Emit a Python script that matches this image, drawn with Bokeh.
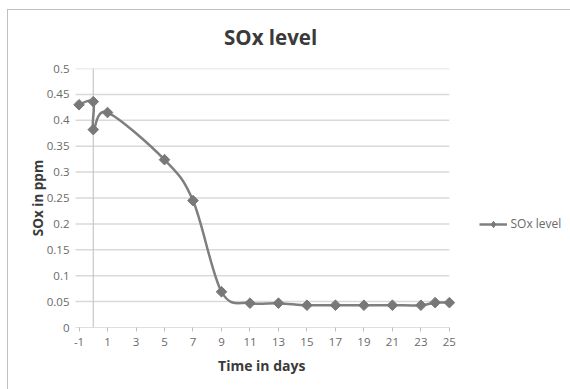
import math
from bokeh.plotting import figure
from bokeh.models import (FixedTicker, Range1d, Legend, LegendItem, Title)
from bokeh.embed import file_html
from bokeh.resources import INLINE

# ---- data ----
days = [-1, 0, 0, 1, 5, 7, 9, 11, 13, 15, 17, 19, 21, 23, 24, 25]
sox = [0.430, 0.436, 0.382, 0.415, 0.324, 0.245, 0.069, 0.047, 0.047,
       0.043, 0.043, 0.043, 0.043, 0.043, 0.048, 0.048]
x_ticks = [-1, 1, 3, 5, 7, 9, 11, 13, 15, 17, 19, 21, 23, 25]
x_tick_labels = ["-1", "1", "3", "5", "7", "9", "11", "13", "15", "17", "19", "21", "23", "25"]
y_ticks = [0, 0.05, 0.1, 0.15, 0.2, 0.25, 0.3, 0.35, 0.4, 0.45, 0.5]
y_tick_labels = ["0", "0.05", "0.1", "0.15", "0.2", "0.25", "0.3", "0.35", "0.4", "0.45", "0.5"]
series_name = "SOx level"
title_text = "SOx level"
x_label = "Time in days"
y_label = "SOx in ppm"

FONT = "Open Sans"
LINE = "#7f7f7f"
MARK = "#787878"
GRID = "#d9d9d9"
AXIS = "#bfbfbf"
TXT = "#6a6a6a"
DARK = "#3a3a3a"

OX, OY = 7, 9            # chart-area border offset inside the window
PL, PR = 78, 448         # plot-area left/right (window px) for x = -1 .. 25
x_lo, x_hi = x_ticks[0], x_ticks[-1]
scale = (PR - PL) / (x_hi - x_lo)          # px per day
pad = 0.6                                   # room so the first marker is not cut
x_start = x_lo - pad
FL = PL - pad * scale                       # frame left in window px
x_end = x_lo + (570 - PL) / scale           # frame runs to the right edge
tick_len = 3.5 / scale                      # short tick stubs left of the gridlines

p = figure(width=570 - OX, height=389 - OY, output_backend="svg", toolbar_location=None,
           x_range=Range1d(x_start, x_end), y_range=Range1d(0, 0.5),
           min_border_left=int(round(FL - OX)), min_border_right=0, min_border_top=67 - OY,
           min_border_bottom=63)
p.margin = (OY, 0, 0, OX)
p.styles = {"border-top": "1.5px solid #c0c0c0", "border-left": "1.5px solid #c0c0c0"}

p.title.text = title_text
p.title.align = "left"
p.title.offset = 270 - FL - 47
p.title.standoff = 10
p.title.text_font = FONT
p.title.text_font_size = "20.5px"
p.title.text_font_style = "bold"
p.title.text_color = DARK
# thin empty spacer between the title and the plot area
p.add_layout(Title(text=" ", text_font_size="1px", standoff=10), "above")
p.outline_line_color = None
p.background_fill_color = "white"
p.border_fill_color = "white"

# axes
p.xaxis.ticker = FixedTicker(ticks=x_ticks)
p.xaxis.major_label_overrides = {t: l for t, l in zip(x_ticks, x_tick_labels)}
p.yaxis.ticker = FixedTicker(ticks=y_ticks)
p.yaxis.major_label_overrides = {t: l for t, l in zip(y_ticks, y_tick_labels)}
p.yaxis.axis_label = y_label
for ax in (p.xaxis, p.yaxis):
    ax.axis_label_text_font = FONT
    ax.axis_label_text_font_style = "bold"
    ax.axis_label_text_font_size = "13.5px"
    ax.axis_label_text_color = DARK
    ax.major_label_text_font = FONT
    ax.major_label_text_font_size = "11.5px"
    ax.major_label_text_color = TXT
    ax.minor_tick_line_color = None
    ax.major_tick_line_color = AXIS
    ax.major_tick_in = 0
    ax.major_tick_out = 4
    ax.axis_line_color = None
p.yaxis.major_tick_line_color = None
p.yaxis.major_tick_out = 0
p.xaxis.major_label_standoff = 6
p.yaxis.major_label_standoff = 1
p.yaxis.axis_label_standoff = -3

xt = Title(text=x_label, align="left", offset=217 - FL, standoff=10,
           text_font=FONT, text_font_size="14px", text_font_style="bold",
           text_color=DARK)
p.add_layout(xt, "below")

p.xgrid.grid_line_color = None
p.ygrid.grid_line_color = None

# horizontal gridlines and x axis line limited to the x span -1 .. 25
p.segment(x0=[x_lo - tick_len] * (len(y_ticks) - 1), x1=[x_hi] * (len(y_ticks) - 1),
          y0=y_ticks[1:], y1=y_ticks[1:], line_color=GRID, line_width=1.5)
p.segment(x0=[x_lo - tick_len], x1=[x_hi], y0=[y_ticks[0]], y1=[y_ticks[0]],
          line_color=AXIS, line_width=1.2)
# vertical axis line crossing at x = 0
p.segment(x0=[0], x1=[0], y0=[y_ticks[0]], y1=[y_ticks[-1]],
          line_color="#c8c8c8", line_width=1.2)

# smoothed line (Catmull-Rom style control points, like Excel's smoothing)
n = len(days)
x0, y0, x1, y1, cx0, cy0, cx1, cy1 = [], [], [], [], [], [], [], []
for i in range(n - 1):
    pa = max(i - 1, 0)
    pb = min(i + 2, n - 1)
    x0.append(days[i]); y0.append(sox[i])
    x1.append(days[i + 1]); y1.append(sox[i + 1])
    cx0.append(days[i] + (days[i + 1] - days[pa]) / 6)
    cy0.append(sox[i] + (sox[i + 1] - sox[pa]) / 6)
    cx1.append(days[i + 1] - (days[pb] - days[i]) / 6)
    cy1.append(sox[i + 1] - (sox[pb] - sox[i]) / 6)
p.bezier(x0=x0, y0=y0, x1=x1, y1=y1, cx0=cx0, cy0=cy0, cx1=cx1, cy1=cy1,
         line_color=LINE, line_width=2.5)
p.scatter(days, sox, marker="square", angle=math.pi / 4, size=7.5,
          fill_color=MARK, line_color=MARK)

# legend-only renderers (no visible data)
nan = float("nan")
leg_line = p.line(x=[nan, nan], y=[nan, nan], line_color=LINE, line_width=2.5)
leg_mark = p.scatter(x=[nan], y=[nan], marker="diamond", size=11,
                     fill_color=MARK, line_color=MARK)

legend = Legend(items=[LegendItem(label=series_name, renderers=[leg_line, leg_mark])],
                location=(478 - FL, 326 - 223 - 8), padding=0, margin=0, spacing=0,
                glyph_width=28, glyph_height=16, label_standoff=4, label_height=16,
                border_line_color=None, background_fill_alpha=0)
legend.label_text_font = FONT
legend.label_text_font_size = "12px"
legend.label_text_color = TXT
p.add_layout(legend, "center")

open("out.html", "w").write(file_html(p, INLINE))
